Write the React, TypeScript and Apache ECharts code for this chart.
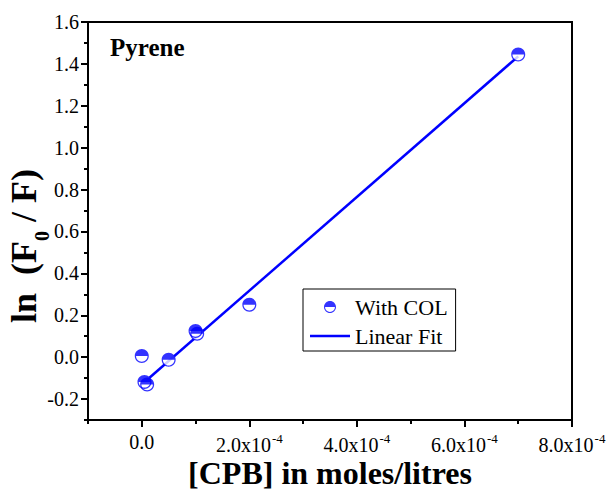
import React, { useEffect, useRef } from 'react';
import * as echarts from 'echarts';

// ---- data ----
const concentration = [0, 5e-6, 1e-5, 5e-5, 1e-4, 1.03e-4, 2e-4, 7e-4];
const lnF0F = [0.005, -0.118, -0.131, -0.012, 0.125, 0.112, 0.25, 1.445];
const fitX = [1e-5, 7e-4];
const fitY = [-0.108, 1.436];
const xMajorTicks = [0, 2e-4, 4e-4, 6e-4, 8e-4];
const xMinorTicks = [-1e-4, 1e-4, 3e-4, 5e-4, 7e-4];
const yMajorTicks = [-0.2, 0, 0.2, 0.4, 0.6, 0.8, 1.0, 1.2, 1.4, 1.6];
const yMinorTicks = [-0.3, -0.1, 0.1, 0.3, 0.5, 0.7, 0.9, 1.1, 1.3, 1.5];

const FONT = '"Liberation Serif", "Times New Roman", serif';
const BLUE = '#0000ff';
// top half filled disc + thin lower half ring (bezier circle arcs)
const HALF =
  'path://M0,10 C0,4.477 4.477,0 10,0 C15.523,0 20,4.477 20,10 Z ' +
  'M0,10 C0,15.523 4.477,20 10,20 C15.523,20 20,15.523 20,10 L18.2,10 ' +
  'C18.2,14.529 14.529,18.2 10,18.2 C5.471,18.2 1.8,14.529 1.8,10 Z';
const LINE_ICON = 'path://M0,0 L40,0 L40,2.5 L0,2.5 Z';

export default function App() {
  const ref = useRef<HTMLDivElement>(null);

  useEffect(() => {
    if (!ref.current) return;
    const chart = echarts.init(ref.current, undefined, { renderer: 'svg' });
    const points = concentration.map((x, i) => [x, lnF0F[i]]);
    const fit = fitX.map((x, i) => [x, fitY[i]]);
    const lineStyle = { color: '#000', width: 2 };

    chart.setOption({
      animation: false,
      backgroundColor: '#fff',
      grid: {
        left: 88,
        right: 36,
        top: 22,
        bottom: 72,
        show: true,
        borderColor: '#000',
        borderWidth: 2,
        outerBoundsMode: 'none',
      },
      xAxis: [
        {
          type: 'value',
          min: -1e-4,
          max: 8e-4,
          position: 'bottom',
          axisLine: { show: true, onZero: false, lineStyle },
          axisTick: { show: true, customValues: xMajorTicks, length: 7, lineStyle },
          axisLabel: {
            customValues: xMajorTicks,
            margin: 12,
            fontSize: 20,
            fontFamily: FONT,
            color: '#000',
            formatter: (v: number) =>
              Math.abs(v) < 1e-12 ? '0.0' : `${(v * 1e4).toFixed(1)}x10{sup|-4}`,
            rich: {
              sup: {
                fontSize: 13,
                fontFamily: FONT,
                color: '#000',
                verticalAlign: 'top',
                padding: [0, 0, 12, 1],
              },
            },
          },
          splitLine: { show: false },
          name: '[CPB] in moles/litres',
          nameLocation: 'middle',
          nameGap: 37,
          nameMoveOverlap: false,
          nameTextStyle: { fontSize: 32, fontWeight: 'bold', fontFamily: FONT, color: '#000' },
        },
        {
          type: 'value',
          min: -1e-4,
          max: 8e-4,
          position: 'bottom',
          axisLine: { show: false, onZero: false },
          axisTick: { show: true, customValues: xMinorTicks, length: 4, lineStyle },
          axisLabel: { show: false },
          splitLine: { show: false },
        },
      ],
      yAxis: [
        {
          type: 'value',
          min: -0.3,
          max: 1.6,
          position: 'left',
          axisLine: { show: true, onZero: false, lineStyle },
          axisTick: { show: true, customValues: yMajorTicks, length: 7, lineStyle },
          axisLabel: {
            customValues: yMajorTicks,
            margin: 9,
            fontSize: 20,
            fontFamily: FONT,
            color: '#000',
            formatter: (v: number) => v.toFixed(1),
          },
          splitLine: { show: false },
        },
        {
          type: 'value',
          min: -0.3,
          max: 1.6,
          position: 'left',
          axisLine: { show: false, onZero: false },
          axisTick: { show: true, customValues: yMinorTicks, length: 4, lineStyle },
          axisLabel: { show: false },
          splitLine: { show: false },
        },
      ],
      legend: {
        left: 303,
        top: 289,
        orient: 'vertical',
        padding: [7, 8, 4, 7],
        itemGap: 7,
        itemWidth: 40,
        itemHeight: 12,
        borderColor: '#000',
        borderWidth: 1,
        backgroundColor: '#fff',
        selectedMode: false,
        textStyle: { fontFamily: FONT, fontSize: 22, color: '#000' },
        data: [
          { name: 'With COL', icon: HALF },
          { name: 'Linear Fit', icon: LINE_ICON },
        ],
      },
      series: [
        {
          name: 'Linear Fit',
          type: 'line',
          data: fit,
          symbol: 'none',
          showSymbol: false,
          lineStyle: { color: BLUE, width: 2.5 },
          itemStyle: { color: BLUE },
          z: 1,
        },
        {
          name: 'bg',
          type: 'scatter',
          data: points,
          symbol: 'circle',
          symbolSize: 13,
          itemStyle: { color: '#fff' },
          silent: true,
          z: 2,
        },
        {
          name: 'With COL',
          type: 'scatter',
          data: points,
          symbol: HALF,
          symbolSize: 14,
          itemStyle: { color: BLUE },
          z: 3,
        },
      ],
      graphic: [
        {
          type: 'text',
          x: 110,
          y: 47,
          style: {
            text: 'Pyrene',
            fontSize: 25,
            fontWeight: 'bold',
            fontFamily: FONT,
            fill: '#000',
            align: 'left',
            verticalAlign: 'middle',
          },
        },
        {
          type: 'text',
          x: 24,
          y: 246,
          rotation: Math.PI / 2,
          style: {
            text: 'ln\u00A0\u00A0(F{sub|0}\u00A0/\u00A0F)',
            fontSize: 36,
            fontWeight: 'bold',
            fontFamily: FONT,
            fill: '#000',
            align: 'center',
            verticalAlign: 'middle',
            rich: {
              sub: {
                fontSize: 20,
                fontWeight: 'bold',
                fontFamily: FONT,
                fill: '#000',
                verticalAlign: 'top',
                padding: [36, 0, 0, 0],
              },
            },
          },
        },
      ],
    });

    return () => chart.dispose();
  }, []);

  return (
    <div
      ref={ref}
      style={{ position: 'fixed', left: 0, top: 0, width: 608, height: 492, background: '#fff' }}
    />
  );
}
